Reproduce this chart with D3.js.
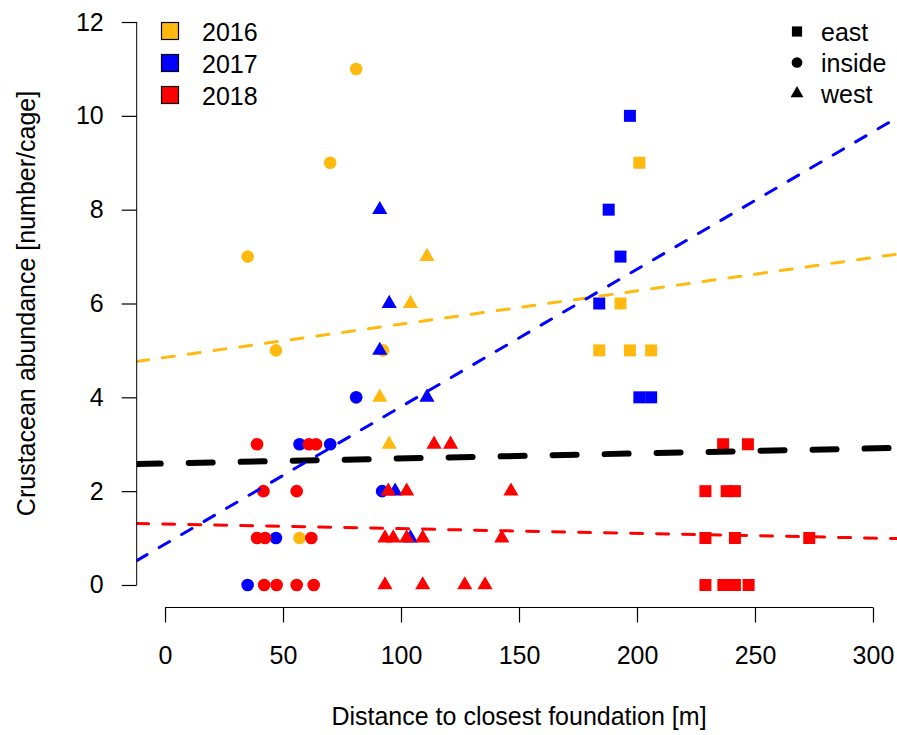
<!DOCTYPE html>
<html lang="en">
<head>
  <meta charset="UTF-8">
  <title>Crustacean abundance</title>
  <script src="https://cdn.jsdelivr.net/npm/d3@7"></script>
  <style>
    body { margin: 0; background: #fff; }
    svg { display: block; }
    text { font-family: "Liberation Sans", Arial, sans-serif; fill: #000; }
  </style>
</head>
<body>
<script>
// chart size
var width = 897,
    height = 735;

// legend entries
var years = ["2016", "2017", "2018"];
var yearColors = ["#FFB90F", "#0000FF", "#FF0000"];
var positions = ["east", "inside", "west"];

// tick labels
var xTicks = [0, 50, 100, 150, 200, 250, 300];
var yTicks = [0, 2, 4, 6, 8, 10, 12];

// 2016
var dist2016  = [184, 197, 206, 193, 201,   35, 47, 70, 81, 92.4, 57,   91, 95, 104, 111];
var count2016 = [5, 5, 5, 6, 9,             7, 5, 9, 11, 5, 1,          4, 3, 6, 7];
var pos2016   = ["east", "east", "east", "east", "east",
                 "inside", "inside", "inside", "inside", "inside", "inside",
                 "west", "west", "west", "west"];

// 2017
var dist2017  = [197, 188, 193, 184, 201, 206,   35, 47, 57, 70, 81, 92,   91, 91, 95, 111, 97.5, 104];
var count2017 = [10, 8, 7, 6, 4, 4,              0, 1, 3, 3, 4, 2,         8, 5, 6, 4, 2, 1];
var pos2017   = ["east", "east", "east", "east", "east", "east",
                 "inside", "inside", "inside", "inside", "inside", "inside",
                 "west", "west", "west", "west", "west", "west"];

// 2018
var dist2018  = [236.5, 247, 229, 238, 241.5, 229, 241.5, 273, 229, 236.6, 241.5, 247.3,
                 39, 61, 64, 41.7, 55.8, 39, 42.4, 62, 42, 47.3, 55.8, 63,
                 114, 121, 94.6, 102.4, 146.6, 93.2, 96.7, 102.4, 109.2, 142.7, 93.2, 109.2, 127, 135.6];
var count2018 = [3, 3, 2, 2, 2, 1, 1, 1, 0, 0, 0, 0,
                 3, 3, 3, 2, 2, 1, 1, 1, 0, 0, 0, 0,
                 3, 3, 2, 2, 2, 1, 1, 1, 1, 1, 0, 0, 0, 0];
var pos2018   = ["east", "east", "east", "east", "east", "east", "east", "east", "east", "east", "east", "east",
                 "inside", "inside", "inside", "inside", "inside", "inside", "inside", "inside", "inside", "inside", "inside", "inside",
                 "west", "west", "west", "west", "west", "west", "west", "west", "west", "west", "west", "west", "west", "west"];

// fitted lines (intercept, slope): 2016, 2017, 2018, all years
var fitNames     = ["all", "2016", "2018", "2017"];
var fitIntercept = [2.59, 4.85, 1.30, 0.87];
var fitSlope     = [0.00107, 0.0071, -0.001, 0.0293];

var fitStyle = {
  "all":  { color: "#000000", width: 6, dash: "24,28" },
  "2016": { color: "#FFB90F", width: 3, dash: "12,14" },
  "2017": { color: "#0000FF", width: 3, dash: "12,14" },
  "2018": { color: "#FF0000", width: 3, dash: "12,14" }
};

// scales (R style 4% padding round xlim 0-300, ylim 0-12)
var x = d3.scaleLinear().domain([-12, 312]).range([136.7, 901.3]);
var y = d3.scaleLinear().domain([-0.48, 12.48]).range([607.5, -0.5]);
var color = d3.scaleOrdinal().domain(years).range(yearColors);

var svg = d3.select("body").append("svg")
    .attr("width", width)
    .attr("height", height);

svg.append("clipPath").attr("id", "plotclip")
  .append("rect")
    .attr("x", x.range()[0]).attr("y", y.range()[1])
    .attr("width", x.range()[1] - x.range()[0])
    .attr("height", y.range()[0] - y.range()[1]);

// symbol shapes
function symbolPath(pos, scale) {
  var s = scale || 1;
  if (pos == "east") return d3.symbol().type(d3.symbolSquare).size(144 * s * s)();
  if (pos == "inside") return d3.symbol().type(d3.symbolCircle).size(Math.PI * 6.3 * 6.3 * s * s)();
  return d3.symbol().type(d3.symbolTriangle).size(100 * s * s)();
}

// build point list, one year after another
var points = [];
function addYear(yr, dist, count, pos) {
  for (var i = 0; i < dist.length; i++) {
    points.push({ year: yr, dist: dist[i], count: count[i], pos: pos[i] });
  }
}
addYear("2016", dist2016, count2016, pos2016);
addYear("2017", dist2017, count2017, pos2017);
addYear("2018", dist2018, count2018, pos2018);

svg.append("g").attr("clip-path", "url(#plotclip)")
  .selectAll("path").data(points).enter().append("path")
    .attr("d", function(d) { return symbolPath(d.pos); })
    .attr("transform", function(d) { return "translate(" + x(d.dist) + "," + y(d.count) + ")"; })
    .attr("fill", function(d) { return color(d.year); });

// regression lines
var fits = fitNames.map(function(n, i) {
  return { name: n, a: fitIntercept[i], b: fitSlope[i] };
});
var xd = x.domain();
svg.append("g").attr("clip-path", "url(#plotclip)")
  .selectAll("line").data(fits).enter().append("line")
    .attr("x1", x(xd[0])).attr("x2", x(xd[1]))
    .attr("y1", function(d) { return y(d.a + d.b * xd[0]); })
    .attr("y2", function(d) { return y(d.a + d.b * xd[1]); })
    .attr("stroke", function(d) { return fitStyle[d.name].color; })
    .attr("stroke-width", function(d) { return fitStyle[d.name].width; })
    .attr("stroke-dasharray", function(d) { return fitStyle[d.name].dash; })
    .attr("stroke-linecap", "round");

// axes
var xAxis = svg.append("g")
    .attr("transform", "translate(0," + y.range()[0] + ")")
    .call(d3.axisBottom(x).tickValues(xTicks).tickSize(15).tickPadding(24));
xAxis.select(".domain").remove();
xAxis.append("line")
    .attr("x1", x(xTicks[0])).attr("x2", x(xTicks[xTicks.length - 1]))
    .attr("stroke", "#000");

var yAxis = svg.append("g")
    .attr("transform", "translate(" + x.range()[0] + ",0)")
    .call(d3.axisLeft(y).tickValues(yTicks).tickSize(15).tickPadding(18));
yAxis.select(".domain").remove();
yAxis.append("line")
    .attr("y1", y(yTicks[0])).attr("y2", y(yTicks[yTicks.length - 1]))
    .attr("stroke", "#000");

svg.selectAll(".tick line").attr("stroke", "#000").attr("stroke-width", 1.2);
svg.selectAll(".tick text")
    .attr("font-family", "'Liberation Sans', Arial, sans-serif")
    .attr("font-size", 25)
    .attr("fill", "#000");

// axis titles
svg.append("text")
    .attr("x", (x.range()[0] + x.range()[1]) / 2)
    .attr("y", 725)
    .attr("text-anchor", "middle")
    .attr("font-size", 25)
    .text("Distance to closest foundation [m]");

svg.append("text")
    .attr("transform", "translate(35," + (y.range()[0] + y.range()[1]) / 2 + ") rotate(-90)")
    .attr("text-anchor", "middle")
    .attr("font-size", 25)
    .text("Crustacean abundance [number/cage]");

// legend: years
var legYear = svg.append("g").selectAll("g").data(years).enter().append("g")
    .attr("transform", function(d, i) { return "translate(170," + (31 + i * 32) + ")"; });
legYear.append("rect")
    .attr("x", -8.5).attr("y", -8.5).attr("width", 17).attr("height", 17)
    .attr("fill", function(d) { return color(d); })
    .attr("stroke", "#000").attr("stroke-width", 1.2);
legYear.append("text")
    .attr("x", 32).attr("y", 1)
    .attr("dominant-baseline", "central")
    .attr("font-size", 25)
    .text(function(d) { return d; });

// legend: positions
var legPos = svg.append("g").selectAll("g").data(positions).enter().append("g")
    .attr("transform", function(d, i) { return "translate(797," + (31.5 + i * 31) + ")"; });
legPos.append("path")
    .attr("d", function(d) { return symbolPath(d, 0.85); })
    .attr("fill", "#000");
legPos.append("text")
    .attr("x", 24).attr("y", 0)
    .attr("dominant-baseline", "central")
    .attr("font-size", 25)
    .text(function(d) { return d; });
</script>
</body>
</html>
